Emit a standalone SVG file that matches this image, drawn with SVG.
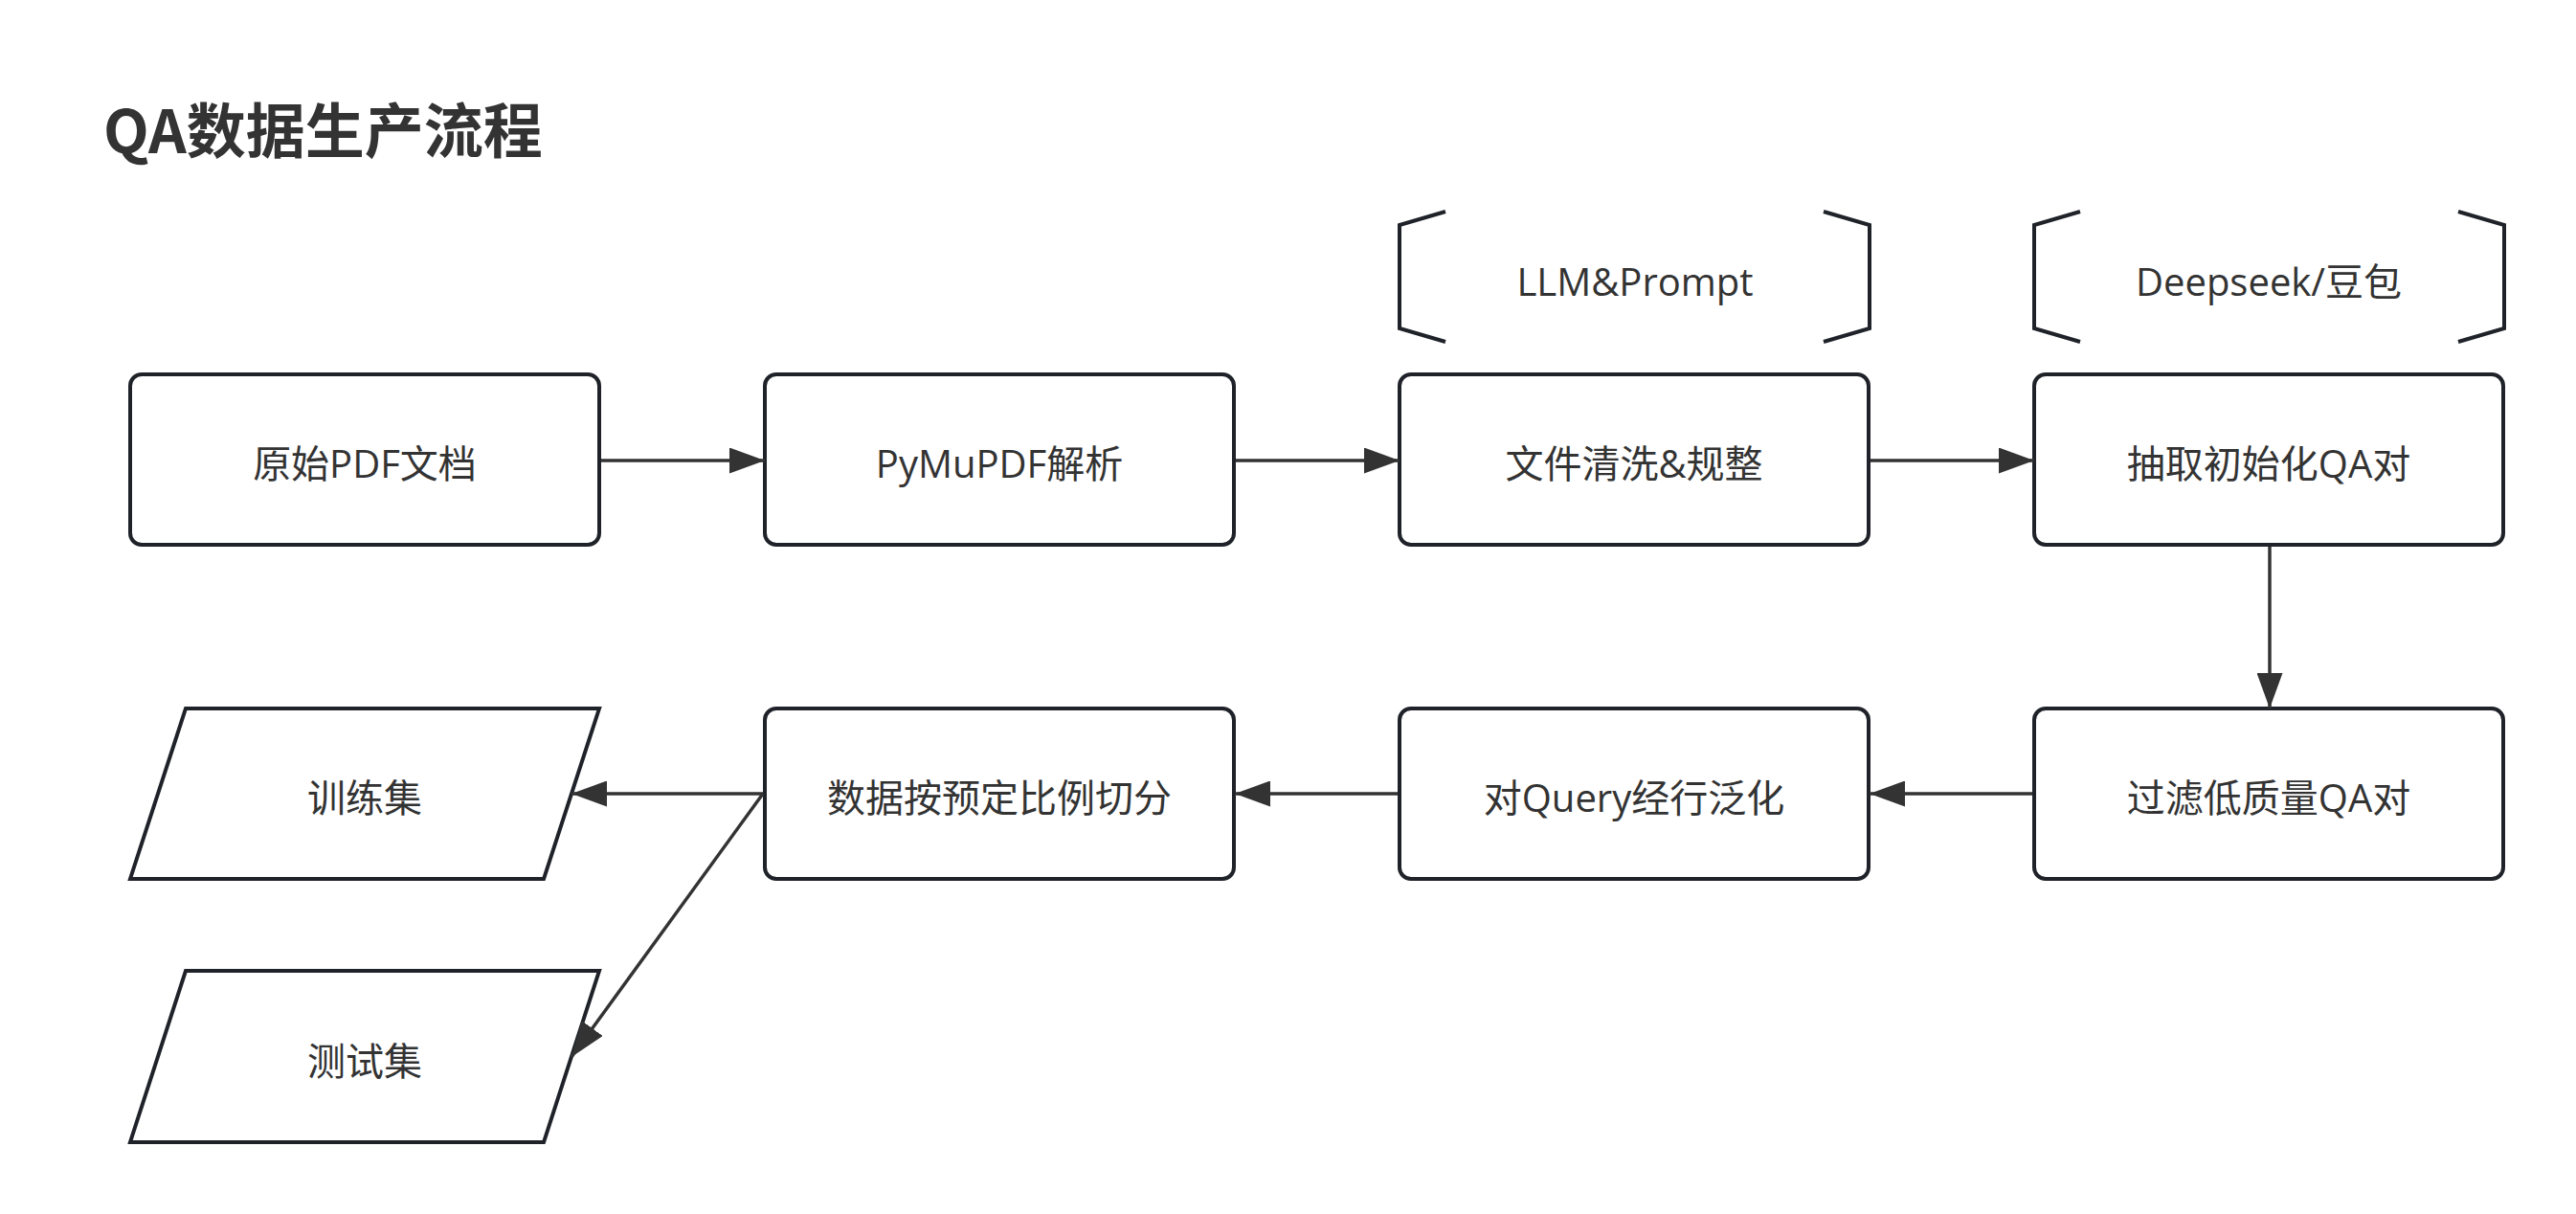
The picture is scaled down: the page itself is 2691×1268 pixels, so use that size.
<svg xmlns="http://www.w3.org/2000/svg" width="2691" height="1268" viewBox="0 0 2691 1268">
<style>
.box{fill:#fff;stroke:#1f2329;stroke-width:4}
.br{fill:none;stroke:#1f2329;stroke-width:4}
.t{font-family:"Open Sans","Noto Sans CJK SC",sans-serif;font-size:40px;fill:#333;text-anchor:middle;dominant-baseline:central}
.title{font-family:"Noto Sans CJK SC",sans-serif;font-size:62px;font-weight:bold;fill:#333}
.c{fill:none;stroke:#333;stroke-width:3.5}
</style>
<defs>
<marker id="ah" viewBox="0 0 37 27" refX="37" refY="13.5" markerWidth="37" markerHeight="27" markerUnits="userSpaceOnUse" orient="auto">
<path d="M0,0 L37,13.5 L0,27 z" fill="#333"/>
</marker>
</defs>
<rect width="2691" height="1268" fill="#fff"/>
<text class="title" x="108" y="160">QA数据生产流程</text>

<g id="n-llm">
<path class="br" d="M1510,221 L1462,235 L1462,343 L1510,357 M1905,221 L1953,235 L1953,343 L1905,357"/>
<text class="t" x="1708" y="293">LLM&amp;Prompt</text>
</g>
<g id="n-deepseek">
<path class="br" d="M2173,221 L2125,235 L2125,343 L2173,357 M2568,221 L2616,235 L2616,343 L2568,357"/>
<text class="t" x="2370" y="293">Deepseek/豆包</text>
</g>

<g id="n1"><rect class="box" x="136" y="391" width="490" height="178" rx="12"/><text class="t" x="381" y="483">原始PDF文档</text></g>
<g id="n2"><rect class="box" x="799" y="391" width="490" height="178" rx="12"/><text class="t" x="1044" y="483">PyMuPDF解析</text></g>
<g id="n3"><rect class="box" x="1462" y="391" width="490" height="178" rx="12"/><text class="t" x="1707" y="483">文件清洗&amp;规整</text></g>
<g id="n4"><rect class="box" x="2125" y="391" width="490" height="178" rx="12"/><text class="t" x="2370" y="483">抽取初始化QA对</text></g>
<g id="n5"><rect class="box" x="2125" y="740" width="490" height="178" rx="12"/><text class="t" x="2370" y="832">过滤低质量QA对</text></g>
<g id="n6"><rect class="box" x="1462" y="740" width="490" height="178" rx="12"/><text class="t" x="1707" y="832">对Query经行泛化</text></g>
<g id="n7"><rect class="box" x="799" y="740" width="490" height="178" rx="12"/><text class="t" x="1044" y="832">数据按预定比例切分</text></g>
<g id="n8"><path class="box" d="M194,740 L626,740 L568,918 L136,918 z"/><text class="t" x="381" y="832">训练集</text></g>
<g id="n9"><path class="box" d="M194,1014 L626,1014 L568,1193 L136,1193 z"/><text class="t" x="381" y="1107">测试集</text></g>

<g id="connectors">
<line class="c" x1="628" y1="481" x2="799" y2="481" marker-end="url(#ah)"/>
<line class="c" x1="1291" y1="481" x2="1462" y2="481" marker-end="url(#ah)"/>
<line class="c" x1="1954" y1="481" x2="2125" y2="481" marker-end="url(#ah)"/>
<line class="c" x1="2371" y1="571" x2="2371" y2="740" marker-end="url(#ah)"/>
<line class="c" x1="2123" y1="829" x2="1953" y2="829" marker-end="url(#ah)"/>
<line class="c" x1="1460" y1="829" x2="1290" y2="829" marker-end="url(#ah)"/>
<line class="c" x1="797" y1="829" x2="597" y2="829" marker-end="url(#ah)"/>
<line class="c" x1="797" y1="829" x2="597" y2="1104" marker-end="url(#ah)"/>
</g>
</svg>
